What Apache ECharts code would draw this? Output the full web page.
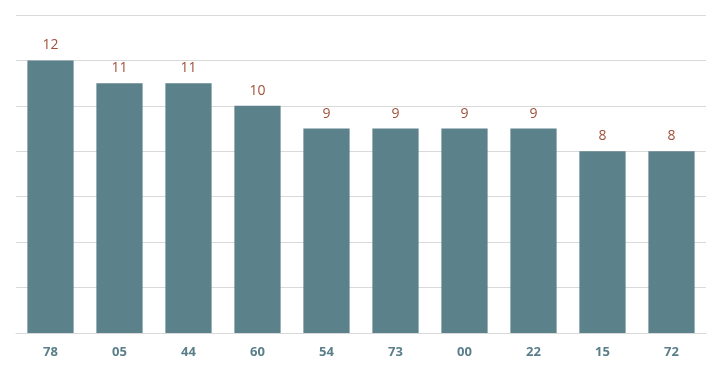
<!DOCTYPE html>
<html><head><meta charset="utf-8">
<script src="https://cdn.jsdelivr.net/npm/echarts@6/dist/echarts.min.js"></script>
<style>html,body{margin:0;padding:0;background:#fff}#c{width:721px;height:372px}</style>
</head><body><div id="c"></div>
<script>
const categories = ["78","05","44","60","54","73","00","22","15","72"];
const values = [12,11,11,10,9,9,9,9,8,8];
const chart = echarts.init(document.getElementById('c'), null, {renderer:'canvas'});
chart.setOption({
  animation:false,
  grid:{left:16,right:15,top:15,bottom:39},
  xAxis:{type:'category',data:categories,
    axisLine:{lineStyle:{color:'#d9d9d9',width:1}},axisTick:{show:false},
    axisLabel:{color:'#5a7f8a',fontWeight:'bold',fontSize:13,fontFamily:'Open Sans',margin:13}},
  yAxis:{type:'value',min:0,max:14,interval:2,axisLabel:{show:false},
    axisLine:{show:false},axisTick:{show:false},
    splitLine:{lineStyle:{color:'#d9d9d9',width:1}}},
  series:[{type:'bar',data:values,barCategoryGap:'33%',
    itemStyle:{color:'#5b828b'},
    label:{show:true,position:'top',distance:8,color:'#a0503a',fontSize:14,fontFamily:'Open Sans'}}]
});
</script></body></html>
